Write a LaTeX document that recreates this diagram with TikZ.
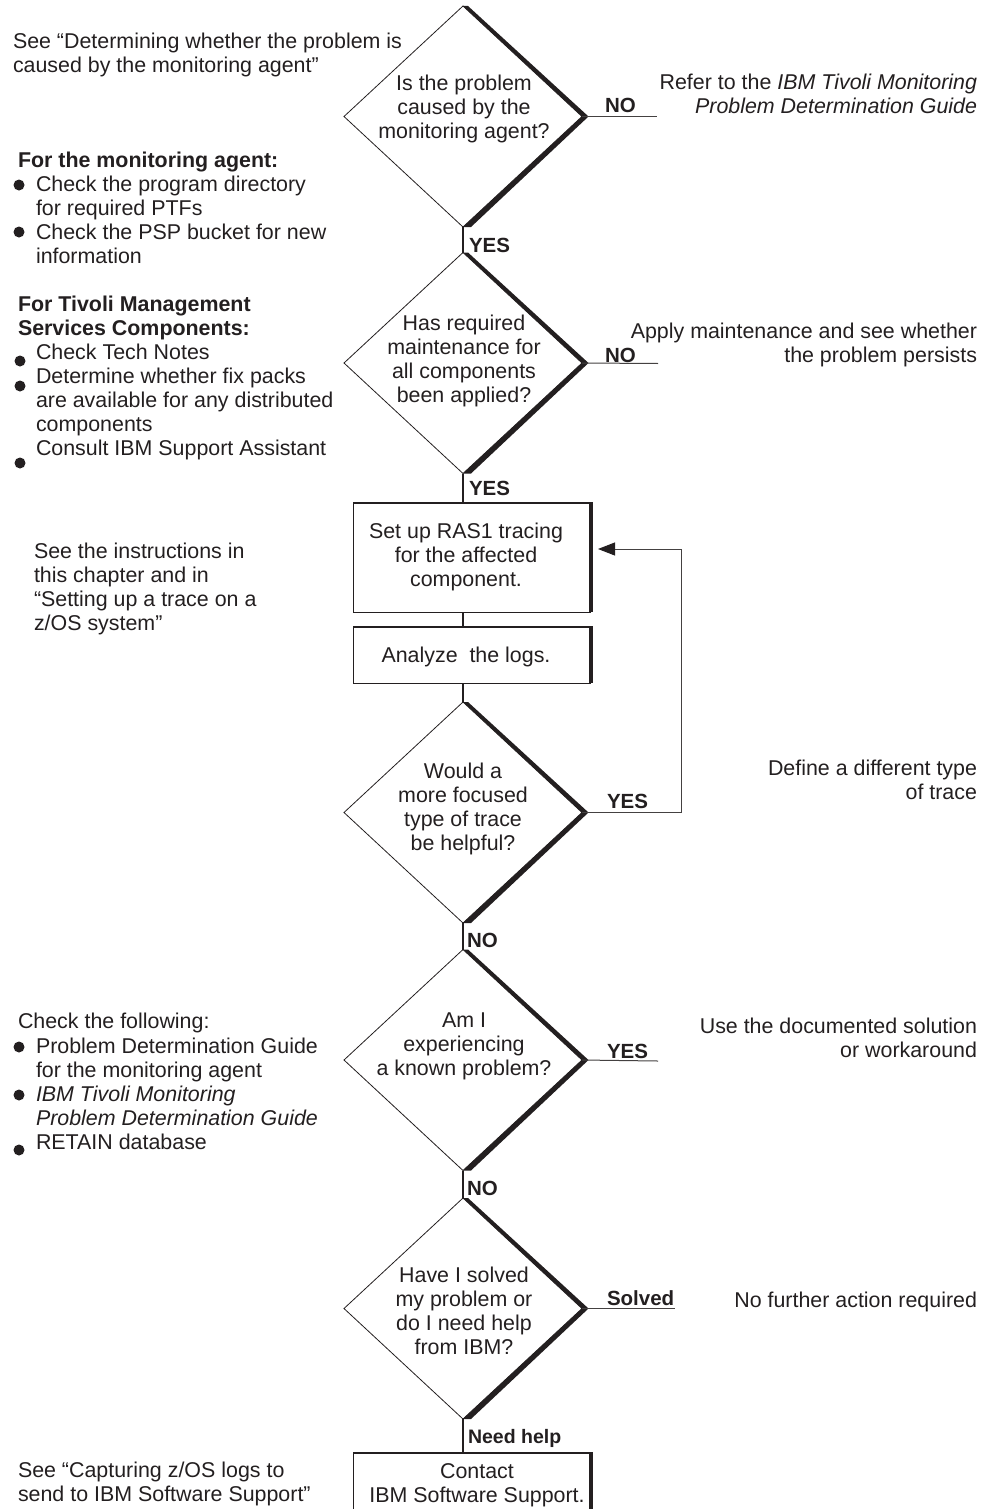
\documentclass[tikz,border=0pt]{standalone}
\usepackage{fontspec}
\setmainfont{Liberation Sans}
\usetikzlibrary{shapes.geometric,arrows.meta}
\definecolor{ink}{RGB}{35,31,32}
\newcommand{\fst}{\rule{0pt}{15.5pt}}
\begin{document}
\begin{tikzpicture}[x=1pt,y=-1pt,
  txt/.style={inner sep=0pt, outer sep=0pt, text=ink, font=\fontsize{21.4}{24.2}\selectfont},
  lft/.style={txt, align=left, anchor=north west},
  rgt/.style={txt, align=right, anchor=north east},
  ctr/.style={txt, align=center, anchor=north},
  lbl/.style={inner sep=0pt, outer sep=0pt, text=ink, font=\bfseries\fontsize{20.5}{24}\selectfont, anchor=base west},
  dia/.style={draw=ink, line width=0.8pt, shape=diamond, minimum width=238pt, minimum height=221pt, inner sep=0pt, outer sep=0pt},
  boxn/.style={draw=ink, line width=0.8pt, rectangle, inner sep=0pt, outer sep=0pt, anchor=north west, minimum width=237pt},
  conn/.style={draw=ink, line width=2pt},
  thinln/.style={draw=ink!85, line width=1pt},
  bul/.style={circle, fill=ink, inner sep=0pt, minimum size=11pt},
  band/.style={fill=ink, draw=none}
]
\useasboundingbox (0,0) rectangle (992,1509);
\clip (0,0) rectangle (992,1509);

% ---------- diamonds ----------
\node[dia] (d1) at (463,116.5) {};
\node[dia] (d2) at (463,363) {};
\node[dia] (d3) at (463,812.5) {};
\node[dia] (d4) at (463,1060) {};
\node[dia] (d5) at (463,1308.5) {};
\foreach \d in {d1,d2,d3,d4,d5}{
  \fill[band] (\d.north) -- ([xshift=5pt]\d.north) -- ([xshift=6.5pt]\d.east)
     -- ([xshift=8pt]\d.south) -- (\d.south) -- (\d.east) -- cycle;
}

% ---------- boxes ----------
\node[boxn, minimum height=109pt] (b1) at (353,503) {};
\node[boxn, minimum height=56pt] (b2) at (353,627) {};
\node[boxn, minimum height=90pt] (b3) at (353,1453) {};
\foreach \b in {b1,b2,b3}{
  \draw[ink, line width=2pt] (\b.north west) -- (\b.north east);
  \draw[ink, line width=3.5pt] ([xshift=1.2pt,yshift=1pt]\b.north east) -- ([xshift=1.2pt]\b.south east);
}

% ---------- vertical connectors ----------
\draw[conn] (d1.south) -- (d2.north);
\draw[conn] (d2.south) -- (d2.south |- b1.north);
\draw[conn] (d2.south |- b1.south) -- (d2.south |- b2.north);
\draw[conn] (d3.north |- b2.south) -- (d3.north);
\draw[conn] (d3.south) -- (d4.north);
\draw[conn] (d4.south) -- (d5.north);
\draw[conn] (d5.south) -- (d5.south |- b3.north);

% ---------- horizontal connectors ----------
\coordinate (e1) at (657,116.5);
\coordinate (e2) at (658,363.5);
\coordinate (e4) at (658,1061);
\coordinate (e5) at (675,1308.5);
\draw[thinln] (d1.east) -- (e1);
\draw[thinln] (d2.east) -- (e2);
\draw[thinln] (d4.east) -- (e4);
\draw[thinln] (d5.east) -- (e5);

% loop back
\coordinate (lp1) at (681,812.5);
\coordinate (lp2) at (681,549);
\coordinate (lp3) at (598,549);
\draw[thinln, -{Triangle[length=17pt,width=13pt,color=ink,fill=ink]}] (d3.east) -- (lp1) -- (lp2) -- (lp3);

% ---------- labels ----------
\node[lbl] (y1) at (469,252) {YES};
\node[lbl] (y2) at (469,495) {YES};
\node[lbl] (n3) at (467,947) {NO};
\node[lbl] (n4) at (467,1195) {NO};
\node[lbl, font=\bfseries\fontsize{19.5}{24}\selectfont] (nh) at (468,1443) {Need help};
\node[lbl] (n1) at (605,113) {NO};
\node[lbl] (n2) at (605,362) {NO};
\node[lbl] (y3) at (607,808) {YES};
\node[lbl] (y4) at (607,1058) {YES};
\node[lbl] (sv) at (607,1305) {Solved};

% ---------- diamond texts ----------
\node[ctr] (t1) at (464,74.5) {\fst Is the problem\\caused by the\\monitoring agent?};
\node[ctr] (t2) at (464,314.5) {\fst Has required\\maintenance for\\all components\\been applied?};
\node[ctr] (t3) at (463,762.5) {\fst Would a\\more focused\\type of trace\\be helpful?};
\node[ctr] (t4) at (464,1011.5) {\fst Am I\\experiencing\\a known problem?};
\node[ctr] (t5) at (464,1266.5) {\fst Have I solved\\my problem or\\do I need help\\from IBM?};

% ---------- box texts ----------
\node[ctr] (bt1) at (466,522.5) {\fst Set up RAS1 tracing\\for the affected\\component.};
\node[ctr] (bt2) at (466,646.5) {\fst Analyze\ \ the logs.};
\node[ctr] (bt3) at (477,1462.5) {\fst Contact\\IBM Software Support.};

% ---------- right side texts ----------
\node[rgt] (r1) at (977,73.5) {\fst Refer to the \textit{IBM Tivoli Monitoring}\\\textit{Problem Determination Guide}};
\node[rgt] (r2) at (977,322.5) {\fst Apply maintenance and see whether\\the problem persists};
\node[rgt] (r3) at (977,759.5) {\fst Define a different type\\of trace};
\node[rgt] (r4) at (977,1017.5) {\fst Use the documented solution\\or workaround};
\node[rgt] (r5) at (977,1291.5) {\fst No further action required};

% ---------- left side texts ----------
\node[lft] (l1) at (13,32.5) {\fst See “Determining whether the problem is\\caused by the monitoring agent”};
\node[lft, font=\bfseries\fontsize{21.4}{24.2}\selectfont] (h1) at (18,151.5) {\fst For the monitoring agent:};
\node[lft] (l2) at (36,175.5) {\fst Check the program directory\\for required PTFs\\Check the PSP bucket for new\\information};
\node[bul] (bu1) at (19,185) {};
\node[bul] (bu2) at (19,232) {};

\node[lft, font=\bfseries\fontsize{21.4}{24.2}\selectfont] (h2) at (18,295.5) {\fst For Tivoli Management\\Services Components:};
\node[lft] (l3) at (36,343.5) {\fst Check Tech Notes\\Determine whether fix packs\\are available for any distributed\\components\\Consult IBM Support Assistant};
\node[bul] (bu3) at (20,361) {};
\node[bul] (bu4) at (20,386) {};
\node[bul] (bu5) at (20,463) {};

\node[lft] (l4) at (34,542.5) {\fst See the instructions in\\this chapter and in\\“Setting up a trace on a\\z/OS system”};

\node[lft] (h3) at (18,1012.5) {\fst Check the following:};
\node[lft] (l5) at (36,1037.5) {\fst Problem Determination Guide\\for the monitoring agent\\\textit{IBM Tivoli Monitoring}\\\textit{Problem Determination Guide}\\RETAIN database};
\node[bul] (bu6) at (19,1047) {};
\node[bul] (bu7) at (19,1095) {};
\node[bul] (bu8) at (19,1150) {};

\node[lft] (l6) at (18,1461.5) {\fst See “Capturing z/OS logs to\\send to IBM Software Support”};
\end{tikzpicture}
\end{document}
